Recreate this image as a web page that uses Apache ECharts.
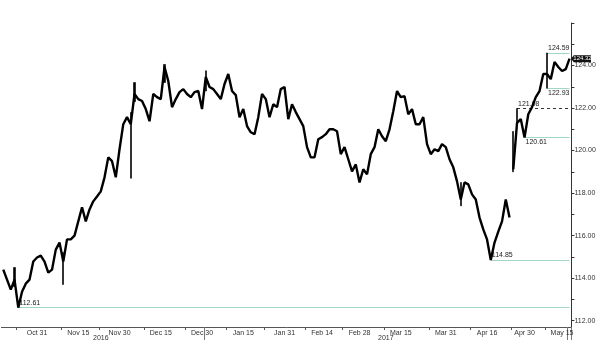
<!DOCTYPE html>
<html>
<head>
<meta charset="utf-8">
<script src="https://cdn.jsdelivr.net/npm/echarts@6/dist/echarts.min.js"></script>
<style>
html,body{margin:0;padding:0;background:#fff;}
#chart{width:600px;height:346px;}
</style>
</head>
<body>
<div id="chart"></div>
<script>
// ---- Axis definitions ----
const startDate = '2016-10-18';
const endDate = '2017-05-17';
const xLabelDates = ['2016-10-31','2016-11-15','2016-11-30','2016-12-15','2016-12-30','2017-01-16','2017-01-31','2017-02-14','2017-02-28','2017-03-15','2017-03-31','2017-04-17','2017-05-01','2017-05-15'];
const xLabelTexts = ['Oct 31','Nov 15','Nov 30','Dec 15','Dec 30','Jan 15','Jan 31','Feb 14','Feb 28','Mar 15','Mar 31','Apr 16','Apr 30','May 15'];
const xTickDates = ['2016-10-24','2016-11-09','2016-11-23','2016-12-09','2016-12-26','2017-01-10','2017-01-24','2017-02-08','2017-02-22','2017-03-09','2017-03-27','2017-04-11','2017-04-26','2017-05-09'];
const yearLabelDates = ['2016-11-23','2017-03-09'];
const yearLabelTexts = ['2016','2017'];
const yearSepDates = ['2017-01-02','2017-05-17'];
const yTickValues = [112,113,114,115,116,117,118,119,120,121,122,123,124,125,126];
const yLabelValues = [112,114,116,118,120,122,124];

// ---- Price path (one reading per weekday) ----
const priceBeforeGap = [
114.40,113.93,113.46,113.93,112.61,113.36,113.74,113.93,114.78,114.97,
115.06,114.78,114.26,114.40,115.34,115.67,114.78,115.82,115.82,116.00,
116.67,117.33,116.67,117.23,117.61,117.84,118.08,118.74,119.68,119.50,
118.74,120.06,121.24,121.57,121.24,122.66,122.42,122.33,121.95,121.38,
122.66,122.51,122.42,123.93,123.27,122.04,122.42,122.75,122.89,122.66,
122.51,122.75,122.80,121.95,123.46,122.99,122.89,122.66,122.42,123.13,
123.60,122.80,122.61,121.57,121.95,121.15,120.86,120.77,121.57,122.66,
122.42,121.57,122.18,122.04,122.89,122.99,121.48,122.18,121.81,121.48,
121.15,120.16,119.68,119.68,120.53,120.63,120.77,121.00,121.00,120.91,
119.83,120.16,119.59,119.02,119.35,118.50,119.12,118.88,119.83,120.16,
121.00,120.67,120.44,121.00,121.85,122.80,122.51,122.56,121.71,121.95,
121.24,121.24,121.57,120.30,119.83,120.06,119.97,120.30,120.16,119.59,
119.21,118.55,117.70,118.50,118.41,117.94,117.70,116.85,116.29,115.82,
114.85,115.67,116.19,116.67,117.70,116.85];
const priceAfterGap = [119.12,121.30,121.48,120.61,121.71,122.04,122.51,122.80,123.60,123.60,123.36,124.17,123.93,123.74,123.83,124.32];

// ---- Intraday spikes (low / high) ----
const spikeDates = ['2016-10-21','2016-11-09','2016-12-05','2016-12-06','2016-12-16','2017-01-02','2017-04-06','2017-04-26','2017-04-27','2017-05-09'];
const spikeLow  = [113.6,113.7,118.7,122.3,123.2,122.8,117.4,119.0,121.2,122.93];
const spikeHigh = [114.5,115.2,121.8,123.2,124.05,123.75,118.5,120.9,121.98,124.59];

// ---- Annotated levels ----
const levelValues = [124.59,122.93,121.98,120.61,114.85,112.61];
const levelStartDates = ['2017-05-09','2017-05-09','2017-04-27','2017-05-01','2017-04-18','2016-10-24'];
const lastPrice = 124.32;

// ---- Build categories (weekdays) ----
const dates = [];
for (let d = new Date(startDate + 'T00:00:00Z'); d <= new Date(endDate + 'T00:00:00Z'); d.setUTCDate(d.getUTCDate() + 1)) {
  const wd = d.getUTCDay();
  if (wd !== 0 && wd !== 6) dates.push(d.toISOString().slice(0, 10));
}
const idx = s => dates.indexOf(s);
const labelMap = {};
xLabelDates.forEach((d, i) => labelMap[d] = xLabelTexts[i]);
const yearMap = {};
yearLabelDates.forEach((d, i) => yearMap[d] = yearLabelTexts[i]);
const tickSet = new Set(xTickDates.map(idx));
const sepSet = new Set(yearSepDates.map(idx));

const s1 = priceBeforeGap.slice();
const s2 = new Array(priceBeforeGap.length).fill('-').concat(priceAfterGap);
const spikeData = dates.map(() => '-');
spikeDates.forEach((d, i) => { spikeData[idx(d)] = [spikeLow[i], spikeHigh[i], spikeLow[i], spikeHigh[i]]; });
const lastIdx = dates.length - 1;

const FONT = "'Liberation Sans Narrow','Liberation Sans',Arial,sans-serif";
const teal = '#9fd6c8';
const txt = '#333';

const levelStyles = [
  {pos: 'insideStartTop', color: teal, type: 'solid'},
  {pos: 'insideStartBottom', color: teal, type: 'solid'},
  {pos: 'insideStartTop', color: '#333', type: [3, 3]},
  {pos: 'insideStartBottom', color: teal, type: 'solid'},
  {pos: 'insideStartTop', color: teal, type: 'solid'},
  {pos: 'insideStartTop', color: teal, type: 'solid'}
];
const markLineData = levelValues.map((v, i) => [
  {coord: [idx(levelStartDates[i]), v],
   lineStyle: {color: levelStyles[i].color, type: levelStyles[i].type, width: 1},
   label: {show: true, position: levelStyles[i].pos, formatter: v.toFixed(2), distance: 1,
           color: '#222', fontSize: 7, fontFamily: FONT}},
  {coord: [lastIdx, v]}
]);

const chart = echarts.init(document.getElementById('chart'), null, {renderer: 'canvas'});
chart.setOption({
  animation: false,
  backgroundColor: '#fff',
  grid: {left: 1.4, right: 28.6, top: 23, bottom: 19},
  xAxis: [{
    type: 'category', data: dates, boundaryGap: true,
    axisLine: {lineStyle: {color: '#555', width: 1}},
    axisTick: {show: true, length: 3, interval: (i) => tickSet.has(i), lineStyle: {color: '#555'}},
    axisLabel: {interval: (i, v) => labelMap[v] !== undefined, formatter: v => labelMap[v] || '',
                fontSize: 7, color: txt, margin: 3, fontFamily: FONT},
    splitLine: {show: false}
  }, {
    type: 'category', data: dates, boundaryGap: true, position: 'bottom',
    axisLine: {show: false},
    axisTick: {show: true, length: 13, interval: (i) => sepSet.has(i), lineStyle: {color: '#777'}},
    axisLabel: {interval: (i, v) => yearMap[v] !== undefined, formatter: v => yearMap[v] || '',
                fontSize: 7, color: txt, margin: 8, fontFamily: FONT},
    splitLine: {show: false}
  }],
  yAxis: {
    type: 'value', position: 'right', min: 111.7, max: 126,
    axisLine: {show: true, lineStyle: {color: '#333', width: 1}},
    axisTick: {show: true, length: 3, customValues: yTickValues, lineStyle: {color: '#333'}},
    axisLabel: {customValues: yLabelValues, formatter: v => v.toFixed(2), fontSize: 7, color: txt, margin: 3, fontFamily: FONT},
    splitLine: {show: false}
  },
  series: [{
    type: 'line', data: s1, showSymbol: false, symbol: 'none',
    lineStyle: {color: '#000', width: 2.4}, z: 3
  }, {
    type: 'line', data: s2, showSymbol: false, symbol: 'none', connectNulls: false,
    lineStyle: {color: '#000', width: 2.4}, z: 3,
    markLine: {silent: true, symbol: ['none', 'none'], data: markLineData, z: 2},
    markPoint: {
      silent: true,
      data: [{coord: [lastIdx, lastPrice], value: lastPrice}],
      symbol: 'path://M0,3.5 L3,0 L22,0 L22,7 L3,7 Z', symbolKeepAspect: false,
      symbolSize: [20, 7], symbolOffset: [11.5, 0],
      itemStyle: {color: '#111'},
      label: {show: true, position: 'inside', formatter: lastPrice.toFixed(2), color: '#fff', fontSize: 6,
              offset: [1.5, 0], fontFamily: FONT}
    }
  }, {
    type: 'candlestick', data: spikeData, barWidth: 1.6, z: 3,
    itemStyle: {color: '#000', color0: '#000', borderColor: '#000', borderColor0: '#000', borderWidth: 0.6}
  }]
});
</script>
</body>
</html>
